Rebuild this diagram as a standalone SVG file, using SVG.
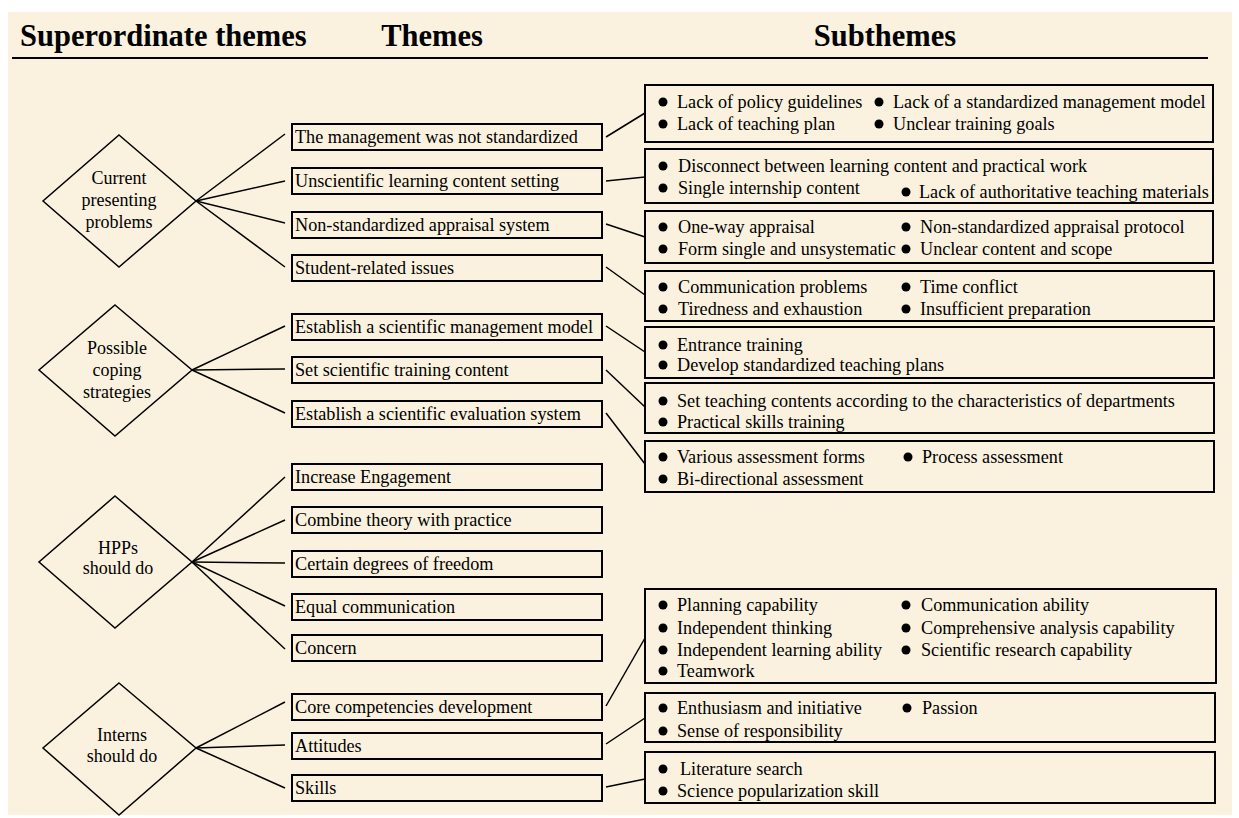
<svg xmlns="http://www.w3.org/2000/svg" width="1239" height="818" viewBox="0 0 1239 818">
<style>
.bg{fill:#FAF2DF}
.hdr{font-family:"Liberation Serif",serif;font-weight:bold;font-size:30.5px;fill:#000}
.t{font-family:"Liberation Serif",serif;font-size:18.2px;fill:#000}
.dt{font-family:"Liberation Serif",serif;font-size:18px;fill:#000;text-anchor:middle}
.box{fill:none;stroke:#000;stroke-width:2}
.dia{fill:none;stroke:#000;stroke-width:1.5}
.con line{stroke:#000;stroke-width:1.5}
.b{fill:#000}
</style>
<rect x="0" y="0" width="1239" height="818" fill="#fff"/>
<rect class="bg" x="8" y="12" width="1224" height="803"/>
<g id="header">
<text class="hdr" x="20" y="46">Superordinate themes</text>
<text class="hdr" x="432" y="46" text-anchor="middle">Themes</text>
<text class="hdr" x="885" y="46" text-anchor="middle">Subthemes</text>
<line x1="12" y1="58" x2="1208" y2="58" stroke="#000" stroke-width="2"/>
</g>
<g id="connectors" class="con">
<line x1="196" y1="201" x2="285" y2="134"/>
<line x1="196" y1="201" x2="285" y2="181"/>
<line x1="196" y1="201" x2="285" y2="223"/>
<line x1="196" y1="201" x2="285" y2="267"/>
<line x1="192" y1="370" x2="285" y2="326"/>
<line x1="192" y1="370" x2="285" y2="369"/>
<line x1="192" y1="370" x2="285" y2="413"/>
<line x1="192" y1="562" x2="285" y2="477"/>
<line x1="192" y1="562" x2="285" y2="520"/>
<line x1="192" y1="562" x2="285" y2="563"/>
<line x1="192" y1="562" x2="285" y2="606"/>
<line x1="192" y1="562" x2="285" y2="649"/>
<line x1="196" y1="748" x2="285" y2="702"/>
<line x1="196" y1="748" x2="285" y2="745"/>
<line x1="196" y1="748" x2="285" y2="788"/>
<line x1="606" y1="137" x2="645" y2="113"/>
<line x1="606" y1="181" x2="645" y2="177"/>
<line x1="606" y1="224" x2="645" y2="237"/>
<line x1="606" y1="267" x2="645" y2="295"/>
<line x1="606" y1="326" x2="645" y2="352"/>
<line x1="606" y1="370" x2="645" y2="407"/>
<line x1="606" y1="413" x2="645" y2="464"/>
<line x1="606" y1="706" x2="645" y2="638"/>
<line x1="606" y1="744" x2="645" y2="718"/>
<line x1="606" y1="787" x2="645" y2="779"/>
</g>
<g id="sup1"><polygon class="dia" points="119,135 196,201 119,267 43,201"/>
<text class="dt" x="119" y="184">Current</text><text class="dt" x="119" y="206">presenting</text><text class="dt" x="119" y="228">problems</text></g>
<g id="sup2"><polygon class="dia" points="115,305 192,370 115,436 39,370"/>
<text class="dt" x="117" y="354">Possible</text><text class="dt" x="117" y="376">coping</text><text class="dt" x="117" y="398">strategies</text></g>
<g id="sup3"><polygon class="dia" points="115,496 192,562 115,628 39,562"/>
<text class="dt" x="118" y="554">HPPs</text><text class="dt" x="118" y="574">should do</text></g>
<g id="sup4"><polygon class="dia" points="119,683 196,748 119,815 43,748"/>
<text class="dt" x="122" y="741">Interns</text><text class="dt" x="122" y="762">should do</text></g>

<g id="th1"><rect class="box" x="292" y="124" width="310" height="26"/><text class="t" x="295" y="143">The management was not standardized</text></g>
<g id="th2"><rect class="box" x="292" y="168" width="310" height="26"/><text class="t" x="295" y="187">Unscientific learning content setting</text></g>
<g id="th3"><rect class="box" x="292" y="212" width="310" height="26"/><text class="t" x="295" y="231">Non-standardized appraisal system</text></g>
<g id="th4"><rect class="box" x="292" y="255" width="310" height="26"/><text class="t" x="295" y="274">Student-related issues</text></g>
<g id="th5"><rect class="box" x="292" y="314" width="310" height="26"/><text class="t" x="295" y="333">Establish a scientific management model</text></g>
<g id="th6"><rect class="box" x="292" y="357" width="310" height="26"/><text class="t" x="295" y="376">Set scientific training content</text></g>
<g id="th7"><rect class="box" x="292" y="401" width="310" height="26"/><text class="t" x="295" y="420">Establish a scientific evaluation system</text></g>
<g id="th8"><rect class="box" x="292" y="464" width="310" height="26"/><text class="t" x="295" y="483">Increase Engagement</text></g>
<g id="th9"><rect class="box" x="292" y="507" width="310" height="26"/><text class="t" x="295" y="526">Combine theory with practice</text></g>
<g id="th10"><rect class="box" x="292" y="551" width="310" height="26"/><text class="t" x="295" y="570">Certain degrees of freedom</text></g>
<g id="th11"><rect class="box" x="292" y="594" width="310" height="26"/><text class="t" x="295" y="613">Equal communication</text></g>
<g id="th12"><rect class="box" x="292" y="635" width="310" height="26"/><text class="t" x="295" y="654">Concern</text></g>
<g id="th13"><rect class="box" x="292" y="694" width="310" height="26"/><text class="t" x="295" y="713">Core competencies development</text></g>
<g id="th14"><rect class="box" x="292" y="733" width="310" height="26"/><text class="t" x="295" y="752">Attitudes</text></g>
<g id="th15"><rect class="box" x="292" y="775" width="310" height="26"/><text class="t" x="295" y="794">Skills</text></g>

<g id="sub1"><rect class="box" x="645" y="85" width="568" height="57"/>
<circle class="b" cx="663" cy="102" r="4.5"/><text class="t" x="677" y="108">Lack of policy guidelines</text>
<circle class="b" cx="879" cy="102" r="4.5"/><text class="t" x="893" y="108">Lack of a standardized management model</text>
<circle class="b" cx="663" cy="124" r="4.5"/><text class="t" x="677" y="130">Lack of teaching plan</text>
<circle class="b" cx="879" cy="124" r="4.5"/><text class="t" x="893" y="130">Unclear training goals</text></g>
<g id="sub2"><rect class="box" x="645" y="149" width="568" height="54"/>
<circle class="b" cx="663" cy="166" r="4.5"/><text class="t" x="678" y="172">Disconnect between learning content and practical work</text>
<circle class="b" cx="663" cy="188" r="4.5"/><text class="t" x="678" y="194">Single internship content</text>
<circle class="b" cx="906" cy="192" r="4.5"/><text class="t" x="919" y="198">Lack of authoritative teaching materials</text></g>
<g id="sub3"><rect class="box" x="645" y="211" width="568" height="52"/>
<circle class="b" cx="663" cy="227" r="4.5"/><text class="t" x="678" y="233">One-way appraisal</text>
<circle class="b" cx="906" cy="227" r="4.5"/><text class="t" x="920" y="233">Non-standardized appraisal protocol</text>
<circle class="b" cx="663" cy="249" r="4.5"/><text class="t" x="678" y="255">Form single and unsystematic</text>
<circle class="b" cx="906" cy="249" r="4.5"/><text class="t" x="920" y="255">Unclear content and scope</text></g>
<g id="sub4"><rect class="box" x="645" y="271" width="569" height="50"/>
<circle class="b" cx="663" cy="287" r="4.5"/><text class="t" x="678" y="293">Communication problems</text>
<circle class="b" cx="906" cy="287" r="4.5"/><text class="t" x="920" y="293">Time conflict</text>
<circle class="b" cx="663" cy="309" r="4.5"/><text class="t" x="678" y="315">Tiredness and exhaustion</text>
<circle class="b" cx="906" cy="309" r="4.5"/><text class="t" x="920" y="315">Insufficient preparation</text></g>
<g id="sub5"><rect class="box" x="645" y="327" width="569" height="51"/>
<circle class="b" cx="663" cy="345" r="4.5"/><text class="t" x="677" y="351">Entrance training</text>
<circle class="b" cx="663" cy="365" r="4.5"/><text class="t" x="677" y="371">Develop standardized teaching plans</text></g>
<g id="sub6"><rect class="box" x="645" y="383" width="569" height="50"/>
<circle class="b" cx="663" cy="401" r="4.5"/><text class="t" x="677" y="407">Set teaching contents according to the characteristics of departments</text>
<circle class="b" cx="663" cy="422" r="4.5"/><text class="t" x="677" y="428">Practical skills training</text></g>
<g id="sub7"><rect class="box" x="645" y="441" width="569" height="51"/>
<circle class="b" cx="663" cy="457" r="4.5"/><text class="t" x="677" y="463">Various assessment forms</text>
<circle class="b" cx="908" cy="457" r="4.5"/><text class="t" x="922" y="463">Process assessment</text>
<circle class="b" cx="663" cy="479" r="4.5"/><text class="t" x="677" y="485">Bi-directional assessment</text></g>
<g id="sub8"><rect class="box" x="645" y="589" width="571" height="94"/>
<circle class="b" cx="663" cy="605" r="4.5"/><text class="t" x="677" y="611">Planning capability</text>
<circle class="b" cx="906" cy="605" r="4.5"/><text class="t" x="921" y="611">Communication ability</text>
<circle class="b" cx="663" cy="628" r="4.5"/><text class="t" x="677" y="634">Independent thinking</text>
<circle class="b" cx="906" cy="628" r="4.5"/><text class="t" x="921" y="634">Comprehensive analysis capability</text>
<circle class="b" cx="663" cy="650" r="4.5"/><text class="t" x="677" y="656">Independent learning ability</text>
<circle class="b" cx="906" cy="650" r="4.5"/><text class="t" x="921" y="656">Scientific research capability</text>
<circle class="b" cx="663" cy="671" r="4.5"/><text class="t" x="677" y="677">Teamwork</text></g>
<g id="sub9"><rect class="box" x="645" y="693" width="570" height="49"/>
<circle class="b" cx="663" cy="708" r="4.5"/><text class="t" x="677" y="714">Enthusiasm and initiative</text>
<circle class="b" cx="907" cy="708" r="4.5"/><text class="t" x="922" y="714">Passion</text>
<circle class="b" cx="663" cy="731" r="4.5"/><text class="t" x="677" y="737">Sense of responsibility</text></g>
<g id="sub10"><rect class="box" x="645" y="752" width="570" height="51"/>
<circle class="b" cx="663" cy="769" r="4.5"/><text class="t" x="680" y="775">Literature search</text>
<circle class="b" cx="663" cy="791" r="4.5"/><text class="t" x="677" y="797">Science popularization skill</text></g>
</svg>
